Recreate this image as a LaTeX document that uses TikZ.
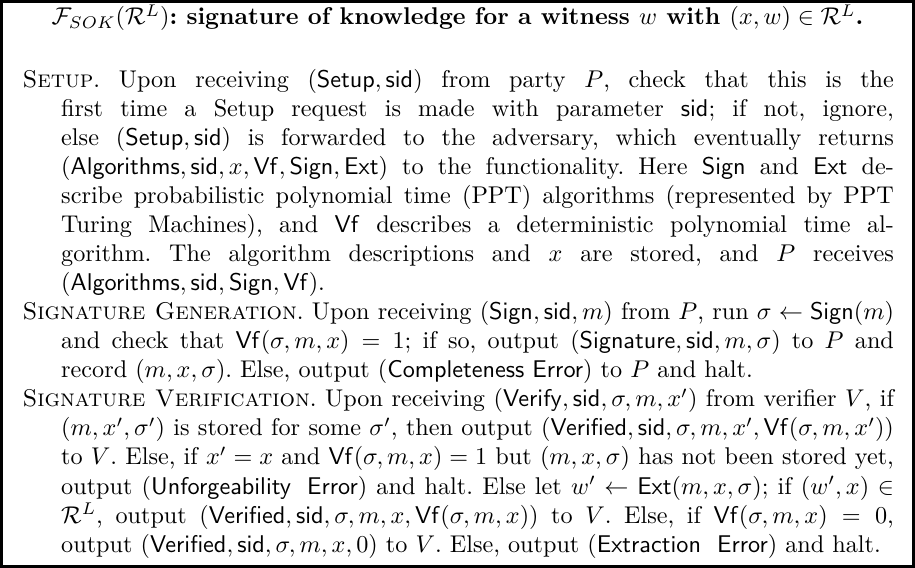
\documentclass[tikz,border=0pt]{standalone}
\tikzset{
  frame/.style={line width=1.2pt},
  titletext/.style={anchor=base, inner sep=0pt, font=\bfseries},
  bodytext/.style={anchor=north west, inner sep=0pt, text width=360pt, align=justify, font=\normalsize\frenchspacing}
}
\newcommand{\sfm}[1]{\mathsf{#1}}
\newcommand{\hangpar}{\noindent\hangindent=16pt\hangafter=1 }
\frenchspacing
\begin{document}
\begin{tikzpicture}
\useasboundingbox (0,0) rectangle (378pt,-234.6pt);
\draw[frame] (0.6pt,-0.6pt) rectangle (377.4pt,-234pt);
\node[titletext] (title) at (189pt,-10.3pt) {$\mathcal{F}_{SOK}(\mathcal{R}^L)$: signature of knowledge for a witness $w$ with $(x,w)\in\mathcal{R}^L$.};
\node[bodytext] (body) at (9.1pt,-28.4pt) {%
\hangpar\textsc{Setup}. Upon receiving $(\sfm{Setup},\sfm{sid})$ from party $P$, check that this is the\linebreak
first time a Setup request is made with parameter $\sfm{sid}$; if not, ignore,\linebreak
else $(\sfm{Setup},\sfm{sid})$ is forwarded to the adversary, which eventually returns\linebreak
$(\sfm{Algorithms},\sfm{sid},x,\sfm{Vf},\sfm{Sign},\sfm{Ext})$ to the functionality. Here $\sfm{Sign}$ and $\sfm{Ext}$ de-\linebreak
scribe probabilistic polynomial time (PPT) algorithms (represented by PPT\linebreak
Turing Machines), and $\sfm{Vf}$ describes a deterministic polynomial time al-\linebreak
gorithm. The algorithm descriptions and $x$ are stored, and $P$ receives\linebreak
$(\sfm{Algorithms},\sfm{sid},\sfm{Sign},\sfm{Vf})$.\par
\hangpar\textsc{Signature Generation}. Upon receiving $(\sfm{Sign},\sfm{sid},m)$ from $P$, run $\sigma\leftarrow\sfm{Sign}(m)$\linebreak
and check that $\sfm{Vf}(\sigma,m,x)=1$; if so, output $(\sfm{Signature},\sfm{sid},m,\sigma)$ to $P$ and\linebreak
record $(m,x,\sigma)$. Else, output $(\textsf{Completeness Error})$ to $P$ and halt.\par
\hangpar\textsc{Signature Verification}. Upon receiving $(\sfm{Verify},\sfm{sid},\sigma,m,x')$ from verifier $V$, if\linebreak
$(m,x',\sigma')$ is stored for some $\sigma'$, then output $(\sfm{Verified},\sfm{sid},\sigma,m,x',\sfm{Vf}(\sigma,m,x'))$\linebreak
to $V$. Else, if $x'=x$ and $\sfm{Vf}(\sigma,m,x)=1$ but $(m,x,\sigma)$ has not been stored yet,\linebreak
output $(\textsf{Unforgeability\ \ Error})$ and halt. Else let $w'\leftarrow\sfm{Ext}(m,x,\sigma)$; if $(w',x)\in$\linebreak
$\mathcal{R}^L$, output $(\sfm{Verified},\sfm{sid},\sigma,m,x,\sfm{Vf}(\sigma,m,x))$ to $V$. Else, if $\sfm{Vf}(\sigma,m,x)=0$,\linebreak
output $(\sfm{Verified},\sfm{sid},\sigma,m,x,0)$ to $V$. Else, output $(\textsf{Extraction\ \ Error})$ and halt.\par};
\end{tikzpicture}
\end{document}
